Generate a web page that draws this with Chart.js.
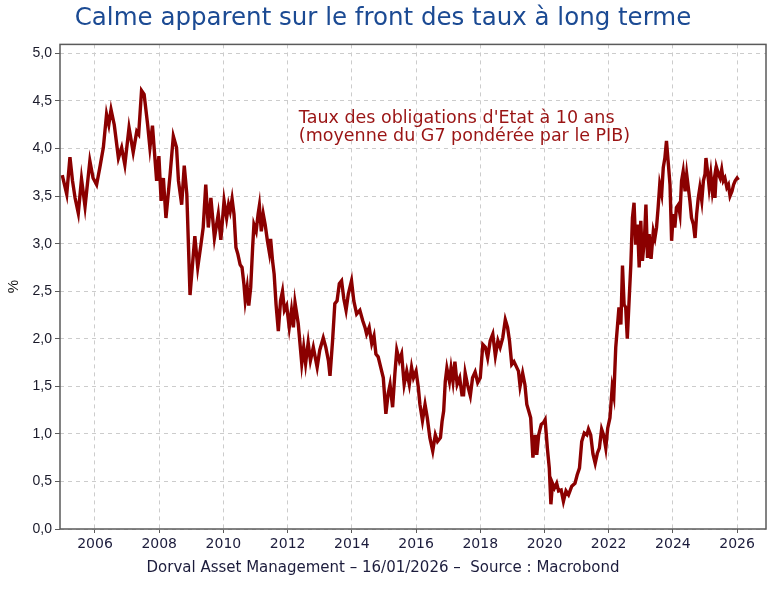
<!DOCTYPE html>
<html lang="fr">
<head>
<meta charset="utf-8">
<title>Calme apparent sur le front des taux à long terme</title>
<script src="https://cdn.jsdelivr.net/npm/chart.js@4.4.1/dist/chart.umd.min.js"></script>
<style>
  html, body { margin: 0; padding: 0; background: #fff; }
  #wrap { width: 775px; height: 589px; }
</style>
</head>
<body>
<div id="wrap"><canvas id="ratesChart" width="775" height="589"></canvas></div>
<script>
// --- Data (decimal years / % yield) ---
const dates = [
  2004.98, 2005.12, 2005.22, 2005.30, 2005.38, 2005.48, 2005.58, 2005.69, 2005.84, 2005.94,
  2006.05, 2006.15, 2006.26, 2006.36, 2006.43, 2006.50, 2006.60, 2006.73, 2006.83, 2006.93,
  2007.06, 2007.19, 2007.30, 2007.36, 2007.45, 2007.53, 2007.64, 2007.71, 2007.79, 2007.92,
  2007.99, 2008.06, 2008.13, 2008.21, 2008.34, 2008.44, 2008.54, 2008.60, 2008.70, 2008.78,
  2008.86, 2008.96, 2009.03, 2009.11, 2009.20, 2009.30, 2009.37, 2009.45, 2009.53, 2009.61,
  2009.72, 2009.84, 2009.92, 2010.02, 2010.10, 2010.16, 2010.21, 2010.27, 2010.33, 2010.39,
  2010.45, 2010.52, 2010.58, 2010.64, 2010.68, 2010.74, 2010.79, 2010.85, 2010.91, 2010.95,
  2011.02, 2011.08, 2011.12, 2011.18, 2011.24, 2011.30, 2011.37, 2011.43, 2011.47, 2011.53,
  2011.58, 2011.64, 2011.71, 2011.78, 2011.84, 2011.90, 2011.97, 2012.05, 2012.12, 2012.18,
  2012.23, 2012.33, 2012.44, 2012.50, 2012.56, 2012.64, 2012.71, 2012.80, 2012.92, 2013.00,
  2013.11, 2013.19, 2013.27, 2013.32, 2013.40, 2013.47, 2013.54, 2013.61, 2013.68, 2013.75,
  2013.82, 2013.89, 2013.99, 2014.06, 2014.15, 2014.25, 2014.34, 2014.41, 2014.46, 2014.54,
  2014.62, 2014.69, 2014.75, 2014.82, 2014.90, 2014.98, 2015.06, 2015.13, 2015.19, 2015.27,
  2015.34, 2015.40, 2015.48, 2015.55, 2015.63, 2015.71, 2015.79, 2015.86, 2015.92, 2016.00,
  2016.07, 2016.12, 2016.20, 2016.28, 2016.35, 2016.43, 2016.52, 2016.60, 2016.67, 2016.76,
  2016.81, 2016.86, 2016.91, 2016.96, 2017.04, 2017.09, 2017.15, 2017.21, 2017.28, 2017.36,
  2017.43, 2017.48, 2017.53, 2017.60, 2017.69, 2017.76, 2017.84, 2017.92, 2018.00, 2018.08,
  2018.16, 2018.23, 2018.31, 2018.39, 2018.47, 2018.55, 2018.62, 2018.70, 2018.78, 2018.85,
  2018.91, 2018.98, 2019.05, 2019.12, 2019.19, 2019.24, 2019.32, 2019.39, 2019.45, 2019.51,
  2019.57, 2019.64, 2019.71, 2019.76, 2019.82, 2019.90, 2019.97, 2020.02, 2020.09, 2020.15,
  2020.20, 2020.25, 2020.31, 2020.38, 2020.44, 2020.52, 2020.59, 2020.67, 2020.75, 2020.85,
  2020.95, 2021.02, 2021.09, 2021.16, 2021.24, 2021.32, 2021.37, 2021.44, 2021.51, 2021.58,
  2021.65, 2021.71, 2021.78, 2021.84, 2021.91, 2021.97, 2022.04, 2022.11, 2022.16, 2022.22,
  2022.27, 2022.32, 2022.38, 2022.43, 2022.48, 2022.53, 2022.58, 2022.64, 2022.69, 2022.74,
  2022.79, 2022.84, 2022.90, 2022.95, 2023.00, 2023.05, 2023.11, 2023.16, 2023.21, 2023.26,
  2023.32, 2023.39, 2023.44, 2023.49, 2023.54, 2023.59, 2023.65, 2023.70, 2023.75, 2023.80,
  2023.86, 2023.91, 2023.96, 2024.01, 2024.06, 2024.11, 2024.17, 2024.22, 2024.27, 2024.32,
  2024.38, 2024.43, 2024.48, 2024.53, 2024.58, 2024.64, 2024.69, 2024.74, 2024.79, 2024.84,
  2024.90, 2024.95, 2025.00, 2025.03, 2025.08, 2025.13, 2025.18, 2025.23, 2025.28, 2025.31,
  2025.36, 2025.42, 2025.47, 2025.52, 2025.57, 2025.62, 2025.68, 2025.73, 2025.78, 2025.84,
  2025.89, 2025.94, 2026.00, 2026.04
];
const rates = [
  3.72, 3.52, 3.91, 3.66, 3.48, 3.32, 3.68, 3.39, 3.87, 3.69,
  3.62, 3.80, 4.01, 4.36, 4.25, 4.41, 4.25, 3.90, 4.01, 3.83,
  4.22, 3.96, 4.18, 4.15, 4.61, 4.57, 4.25, 4.01, 4.24, 3.66,
  3.92, 3.45, 3.69, 3.27, 3.73, 4.13, 4.01, 3.66, 3.41, 3.82,
  3.52, 2.46, 2.75, 3.08, 2.75, 2.99, 3.17, 3.62, 3.17, 3.48,
  3.06, 3.31, 3.04, 3.45, 3.27, 3.41, 3.34, 3.47, 3.31, 2.96,
  2.89, 2.78, 2.75, 2.57, 2.40, 2.54, 2.35, 2.54, 2.96, 3.20,
  3.13, 3.31, 3.40, 3.13, 3.31, 3.20, 3.03, 2.91, 3.05, 2.82,
  2.68, 2.36, 2.08, 2.40, 2.50, 2.30, 2.35, 2.12, 2.30, 2.12,
  2.38, 2.16, 1.74, 1.91, 1.74, 1.96, 1.77, 1.91, 1.70, 1.88,
  2.01, 1.91, 1.77, 1.61, 1.98, 2.37, 2.40, 2.58, 2.61, 2.42,
  2.30, 2.47, 2.61, 2.40, 2.26, 2.30, 2.19, 2.12, 2.05, 2.12,
  1.95, 2.03, 1.84, 1.81, 1.70, 1.59, 1.21, 1.42, 1.52, 1.28,
  1.63, 1.88, 1.77, 1.84, 1.52, 1.66, 1.52, 1.70, 1.59, 1.66,
  1.49, 1.31, 1.14, 1.31, 1.17, 0.96, 0.82, 0.99, 0.92, 0.96,
  1.13, 1.24, 1.55, 1.69, 1.55, 1.69, 1.55, 1.76, 1.52, 1.59,
  1.41, 1.41, 1.64, 1.52, 1.40, 1.59, 1.65, 1.54, 1.59, 1.94,
  1.91, 1.80, 1.98, 2.05, 1.82, 1.98, 1.91, 2.01, 2.20, 2.12,
  1.98, 1.73, 1.76, 1.71, 1.66, 1.50, 1.64, 1.52, 1.31, 1.24,
  1.17, 0.75, 0.99, 0.78, 0.99, 1.10, 1.12, 1.15, 0.85, 0.64,
  0.26, 0.48, 0.43, 0.48, 0.40, 0.41, 0.29, 0.40, 0.36, 0.45,
  0.48, 0.57, 0.64, 0.92, 1.01, 0.99, 1.05, 0.99, 0.79, 0.69,
  0.80, 0.85, 1.05, 0.99, 0.85, 1.06, 1.17, 1.49, 1.40, 1.91,
  2.12, 2.33, 2.15, 2.77, 2.36, 2.33, 2.00, 2.43, 2.78, 3.27,
  3.43, 2.99, 3.20, 2.75, 3.24, 2.82, 3.03, 3.41, 2.85, 3.10,
  2.84, 3.13, 3.06, 3.17, 3.38, 3.62, 3.52, 3.80, 3.90, 4.08,
  3.83, 3.62, 3.03, 3.31, 3.17, 3.38, 3.41, 3.31, 3.66, 3.76,
  3.55, 3.73, 3.59, 3.45, 3.27, 3.20, 3.06, 3.31, 3.48, 3.59,
  3.45, 3.66, 3.73, 3.90, 3.76, 3.59, 3.73, 3.55, 3.66, 3.48,
  3.80, 3.73, 3.69, 3.78, 3.66, 3.69, 3.59, 3.62, 3.50, 3.55,
  3.62, 3.66, 3.69, 3.67
];
const yearTicks = [2006, 2008, 2010, 2012, 2014, 2016, 2018, 2020, 2022, 2024, 2026];
const rateTicks = [0, 0.5, 1, 1.5, 2, 2.5, 3, 3.5, 4, 4.5, 5];
const noteLines = ["Taux des obligations d'Etat à 10 ans", "(moyenne du G7 pondérée par le PIB)"];
const noteAnchor = [2012.35, 4.32]; // year, %

const roundFont = "'DejaVu Sans', 'Noto Sans', sans-serif";
const armFont = "'Liberation Sans', Arial, sans-serif";

// frame round the plot area + the annotation text
const framePlugin = {
  id: 'frame',
  afterDatasetsDraw(chart) {
    const { ctx, chartArea: a, scales } = chart;
    ctx.save();
    ctx.strokeStyle = '#5a5a5a';
    ctx.lineWidth = 1.5;
    ctx.strokeRect(a.left, a.top, a.right - a.left, a.bottom - a.top);

    ctx.fillStyle = '#9a1414';
    ctx.font = "17.5px " + roundFont;
    ctx.textBaseline = 'middle';
    ctx.textAlign = 'left';
    const nx = scales.x.getPixelForValue(noteAnchor[0]);
    const ny = scales.y.getPixelForValue(noteAnchor[1]);
    noteLines.forEach((t, i) => ctx.fillText(t, nx, ny + i * 18.5));
    ctx.restore();
  }
};

document.addEventListener('DOMContentLoaded', () => {
  const ctx = document.getElementById('ratesChart');
  new Chart(ctx, {
    type: 'line',
    data: {
      datasets: [{
        label: 'Taux à 10 ans',
        data: dates.map((d, i) => ({ x: d, y: rates[i] })),
        borderColor: '#8b0000',
        borderWidth: 3.4,
        pointRadius: 0,
        tension: 0,
        fill: false
      }]
    },
    options: {
      responsive: false,
      animation: false,
      devicePixelRatio: 1,
      layout: { padding: { left: 0, right: 9, top: 0, bottom: 0 } },
      plugins: {
        legend: { display: false },
        tooltip: { enabled: false },
        title: {
          display: true,
          text: 'Calme apparent sur le front des taux à long terme',
          color: '#1b4a93',
          font: { family: roundFont, size: 24.5, weight: 'normal' },
          padding: { top: 4, bottom: 11 }
        },
        subtitle: {
          display: true,
          position: 'bottom',
          text: 'Dorval Asset Management – 16/01/2026 –  Source : Macrobond',
          color: '#1c1c3c',
          font: { family: roundFont, size: 15, weight: 'normal' },
          padding: { top: 5, bottom: 12 }
        }
      },
      scales: {
        x: {
          type: 'linear',
          min: 2004.91,
          max: 2026.9,
          afterBuildTicks: (s) => { s.ticks = yearTicks.map(v => ({ value: v })); },
          afterFit: (s) => { s.height = 25; },
          grid: {
            color: '#cccccc',
            tickColor: '#5a5a5a',
            tickLength: 4,
            drawTicks: true
          },
          border: { display: false, dash: [4, 4] },
          ticks: {
            color: '#1c1c3c',
            font: { family: roundFont, size: 14 },
            padding: 3,
            maxRotation: 0,
            callback: (v) => String(v)
          }
        },
        y: {
          min: 0,
          max: 5.095,
          afterBuildTicks: (s) => { s.ticks = rateTicks.map(v => ({ value: v })); },
          afterFit: (s) => { s.width = 60; },
          grid: {
            color: '#cccccc',
            tickColor: '#5a5a5a',
            tickLength: 5
          },
          border: { display: false, dash: [4, 4] },
          title: {
            display: true,
            text: '%',
            color: '#111',
            font: { family: armFont, size: 15 },
            padding: { top: 5, bottom: 0 }
          },
          ticks: {
            color: '#1a1a2a',
            font: { family: armFont, size: 14 },
            padding: 3,
            callback: (v) => v.toFixed(1).replace('.', ',')
          }
        }
      }
    },
    plugins: [framePlugin]
  });
});
</script>
</body>
</html>
